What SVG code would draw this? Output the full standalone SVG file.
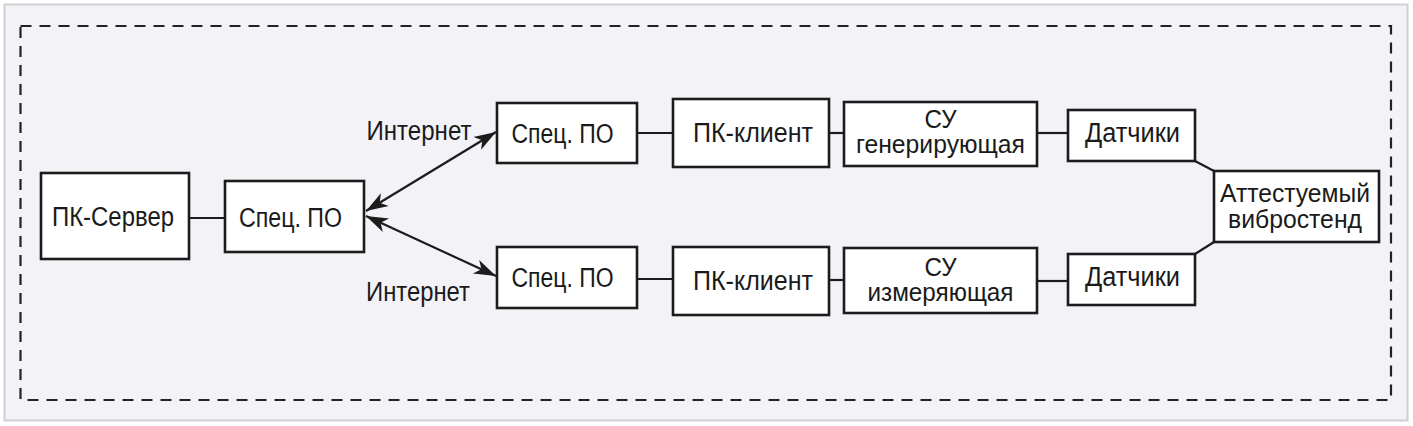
<svg xmlns="http://www.w3.org/2000/svg" width="1413" height="426" viewBox="0 0 1413 426">
<style>
.box{fill:#ffffff;stroke:#1c1c1c;stroke-width:2.6}
.ln{fill:none;stroke:#1c1c1c;stroke-width:2.2}
.t{font-family:"Liberation Sans Narrow","Liberation Sans",Arial,sans-serif;font-size:27px;fill:#1a1a1a;text-anchor:middle}
.t2{font-family:"Liberation Sans Narrow","Liberation Sans",Arial,sans-serif;font-size:25px;fill:#1a1a1a;text-anchor:middle}
</style>
<defs>
<marker id="ah" markerUnits="userSpaceOnUse" markerWidth="24" markerHeight="18" refX="22" refY="9" orient="auto-start-reverse">
<path d="M0,1.5 L22,9 L0,16.5 L6,9 z" fill="#1c1c1c"/>
</marker>
</defs>
<rect x="0" y="0" width="1413" height="426" fill="#ffffff"/>
<rect x="4.5" y="4.5" width="1403" height="416" fill="#f2f2f7" stroke="#cfcfd4" stroke-width="2"/>
<rect x="20.5" y="26" width="1370.5" height="374" fill="none" stroke="#222" stroke-width="2.2" stroke-dasharray="11 8"/>

<g id="connectors">
<line class="ln" x1="189" y1="218" x2="225" y2="218"/>
<line class="ln" x1="366" y1="211" x2="496" y2="132" marker-start="url(#ah)" marker-end="url(#ah)"/>
<line class="ln" x1="366" y1="216" x2="496" y2="276" marker-start="url(#ah)" marker-end="url(#ah)"/>
<line class="ln" x1="637" y1="133" x2="673" y2="133"/>
<line class="ln" x1="829" y1="133" x2="844" y2="133"/>
<line class="ln" x1="1037" y1="133" x2="1068" y2="133"/>
<line class="ln" x1="637" y1="279" x2="673" y2="279"/>
<line class="ln" x1="829" y1="280" x2="844" y2="280"/>
<line class="ln" x1="1037" y1="281" x2="1068" y2="281"/>
<line class="ln" x1="1195" y1="161" x2="1214" y2="171"/>
<line class="ln" x1="1195" y1="254" x2="1214" y2="242"/>
<text class="t" x="419" y="140" textLength="105" lengthAdjust="spacingAndGlyphs">Интернет</text>
<text class="t" x="418" y="301" textLength="104" lengthAdjust="spacingAndGlyphs">Интернет</text>
</g>

<g id="pc-server">
<rect class="box" x="41" y="173" width="148" height="86"/>
<text class="t" x="113" y="225.5" textLength="122" lengthAdjust="spacingAndGlyphs">ПК-Сервер</text>
</g>
<g id="spec-po-server">
<rect class="box" x="225" y="181" width="139" height="71"/>
<text class="t" x="290.5" y="227" textLength="103" lengthAdjust="spacingAndGlyphs">Спец. ПО</text>
</g>
<g id="spec-po-top">
<rect class="box" x="497" y="103" width="140" height="60"/>
<text class="t" x="562.5" y="142.7" textLength="102" lengthAdjust="spacingAndGlyphs">Спец. ПО</text>
</g>
<g id="spec-po-bottom">
<rect class="box" x="497" y="247" width="140" height="61"/>
<text class="t" x="562.5" y="287" textLength="102" lengthAdjust="spacingAndGlyphs">Спец. ПО</text>
</g>
<g id="pc-client-top">
<rect class="box" x="673" y="99" width="156" height="68"/>
<text class="t" x="753" y="142" textLength="120" lengthAdjust="spacingAndGlyphs">ПК-клиент</text>
</g>
<g id="pc-client-bottom">
<rect class="box" x="673" y="247" width="156" height="68"/>
<text class="t" x="753" y="290" textLength="120" lengthAdjust="spacingAndGlyphs">ПК-клиент</text>
</g>
<g id="su-gen">
<rect class="box" x="844" y="102" width="193" height="64"/>
<text class="t2" x="940.5" y="128" textLength="32" lengthAdjust="spacingAndGlyphs">СУ</text>
<text class="t2" x="940.5" y="153" textLength="169" lengthAdjust="spacingAndGlyphs">генерирующая</text>
</g>
<g id="su-meas">
<rect class="box" x="844" y="248" width="193" height="65"/>
<text class="t2" x="940.5" y="275.5" textLength="32" lengthAdjust="spacingAndGlyphs">СУ</text>
<text class="t2" x="940.5" y="300.5" textLength="146" lengthAdjust="spacingAndGlyphs">измеряющая</text>
</g>
<g id="sensors-top">
<rect class="box" x="1068" y="110" width="127" height="51"/>
<text class="t" x="1132.5" y="142" textLength="95" lengthAdjust="spacingAndGlyphs">Датчики</text>
</g>
<g id="sensors-bottom">
<rect class="box" x="1068" y="254" width="127" height="51"/>
<text class="t" x="1132.5" y="286" textLength="95" lengthAdjust="spacingAndGlyphs">Датчики</text>
</g>
<g id="vibrostand">
<rect class="box" x="1214" y="171" width="165" height="71"/>
<text class="t2" x="1295" y="202" textLength="150" lengthAdjust="spacingAndGlyphs">Аттестуемый</text>
<text class="t2" x="1295" y="228" textLength="134" lengthAdjust="spacingAndGlyphs">вибростенд</text>
</g>
</svg>
